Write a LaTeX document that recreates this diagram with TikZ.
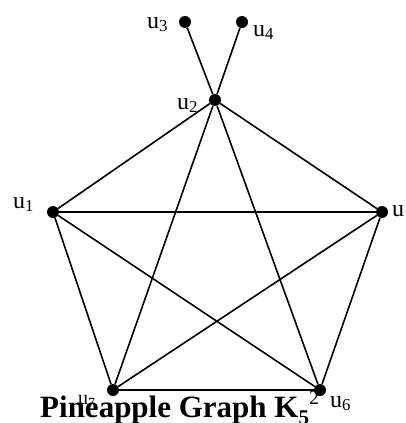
\documentclass[tikz,border=0pt]{standalone}
\usepackage{fontspec}
\setmainfont{Liberation Serif}
\usepackage{tikz}
\usetikzlibrary{positioning}

\begin{document}
\begin{tikzpicture}[
  x=1pt,y=-1pt,
  vertex/.style={circle,fill=black,inner sep=0pt,minimum size=12pt},
  lbl/.style={inner sep=0pt,anchor=base west,font=\fontsize{24}{24}\selectfont},
  edge/.style={line width=1.6pt}
]
  \useasboundingbox (0,0) rectangle (406,423);
  % vertices
  \node[vertex] (v1) at (53,212) {};
  \node[vertex] (v2) at (215,100) {};
  \node[vertex] (v3) at (185,22) {};
  \node[vertex] (v4) at (242,22) {};
  \node[vertex] (v5) at (382,212) {};
  \node[vertex] (v6) at (320,390) {};
  \node[vertex] (v7) at (113,390) {};
  % edges of K5 and the two pendants
  \foreach \a/\b in {v1/v2,v1/v5,v1/v6,v1/v7,v2/v5,v2/v6,v2/v7,v5/v6,v5/v7,v6/v7,v2/v3,v2/v4}{
    \draw[edge] (\a) -- (\b);
  }
  % labels
  \node[lbl] (l1) at (13,208) {u\textsubscript{1}};
  \node[lbl] (l2) at (177,109) {u\textsubscript{2}};
  \node[lbl] (l3) at (147,28) {u\textsubscript{3}};
  \node[lbl] (l4) at (253,36) {u\textsubscript{4}};
  \node[lbl] (l5) at (392,216) {u};
  \node[lbl] (l6) at (330,407) {u\textsubscript{6}};
  \node[lbl,font=\fontsize{20}{20}\selectfont] (l7) at (78,404) {u\textsubscript{7}};
  \node[inner sep=0pt,anchor=base west,font=\fontsize{31}{31}\selectfont\bfseries] (title) at (40,417)
    {Pineapple Graph K\raisebox{-7pt}{\fontsize{21}{21}\selectfont 5}\raisebox{13pt}{\mdseries\fontsize{20}{20}\selectfont 2}};
\end{tikzpicture}
\end{document}
